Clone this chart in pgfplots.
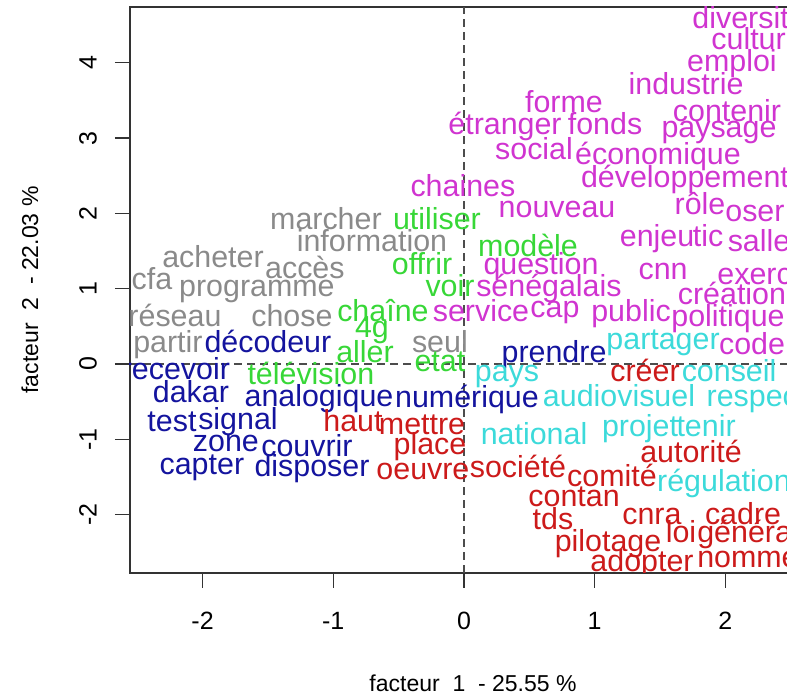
\documentclass[border=0pt]{standalone}
\usepackage{fontspec}
\setmainfont{Liberation Sans}
\usepackage{pgfplots}
\pgfplotsset{compat=1.18}
\definecolor{cmag}{RGB}{208,52,208}
\definecolor{cgray}{RGB}{138,138,138}
\definecolor{cgreen}{RGB}{55,215,55}
\definecolor{cblue}{RGB}{20,20,158}
\definecolor{cred}{RGB}{204,26,26}
\definecolor{ccyan}{RGB}{60,218,218}
\newcommand\wordfont{\fontsize{30.4}{32}\selectfont}
\newcommand\labfont{\fontsize{23}{26}\selectfont}
\newcommand\tickfont{\fontsize{25}{28}\selectfont}
\pgfplotsset{
  words/.style={only marks, mark=*, mark size=0pt, mark options={draw=none,fill=none},
    nodes near coords, point meta=explicit symbolic,
    every node near coord/.append style={anchor=center, font=\wordfont, inner sep=0pt,
      text height=0.72em, text depth=0.2em, yshift=-7pt}},
}
\begin{document}
\begin{tikzpicture}
\begin{axis}[
  scale only axis, width=686pt, height=566pt,
  xmin=-2.555, xmax=2.693, ymin=-2.776, ymax=4.741,
  axis line style={line width=1.5pt, black!80},
  tick pos=left, tick align=outside, major tick length=15pt,
  tick style={line width=1.2pt, black!80},
  xtick={-2,-1,0,1,2}, xticklabels={-2,-1,0,1,2},
  ytick={-2,-1,0,1,2,3,4}, yticklabels={-2,-1,0,1,2,3,4},
  xticklabel style={font=\tickfont, anchor=center, yshift=-33pt},
  yticklabel style={font=\tickfont, anchor=center, xshift=-27pt, rotate=90},
  every axis x label/.style={at={(rel axis cs:0.5,0)}, anchor=center, yshift=-110pt, font=\labfont},
  every axis y label/.style={at={(rel axis cs:0,0.5)}, anchor=center, xshift=-100pt, rotate=90, font=\labfont},
  xlabel={facteur\ \ 1\ \ - 25.55 \%},
  ylabel={facteur\ \ 2\ \ - 22.03 \%},
  clip marker paths=true,
]
\addplot[black!70, line width=1.3pt, dash pattern=on 8pt off 5pt] coordinates {(0,-2.776) (0,4.741)};
\addplot[black!70, line width=1.3pt, dash pattern=on 8pt off 5pt] coordinates {(-2.555,0) (2.693,0)};

\addplot[cmag, words] coordinates {
(2.181,4.582) [diversité]
(2.242,4.303) [culture]
(2.050,4.011) [emploi]
(1.699,3.705) [industrie]
(0.765,3.466) [forme]
(0.314,3.174) [étranger]
(1.079,3.174) [fonds]
(2.012,3.347) [contenir]
(1.951,3.134) [paysage]
(0.536,2.842) [social]
(1.484,2.776) [économique]
(1.691,2.470) [développement]
(-0.008,2.351) [chaines]
(0.712,2.072) [nouveau]
(1.806,2.112) [rôle]
(2.226,2.019) [oser]
(1.477,1.687) [enjeu]
(1.867,1.687) [tic]
(2.257,1.620) [salle]
(0.589,1.315) [question]
(1.523,1.248) [cnn]
(2.372,1.182) [exercice]
(0.650,1.023) [sénégalais]
(2.050,0.916) [création]
(0.130,0.691) [service]
(0.696,0.744) [cap]
(1.278,0.691) [public]
(2.020,0.624) [politique]
(2.204,0.252) [code]
};

\addplot[cgray, words] coordinates {
(-1.056,1.912) [marcher]
(-0.704,1.620) [information]
(-1.920,1.408) [acheter]
(-1.217,1.262) [accès]
(-2.387,1.116) [cfa]
(-1.584,1.023) [programme]
(-2.211,0.624) [réseau]
(-1.316,0.624) [chose]
(-0.184,0.279) [seul]
(-2.265,0.279) [partir]
};

\addplot[cgreen, words] coordinates {
(-0.207,1.912) [utiliser]
(0.490,1.554) [modèle]
(-0.321,1.315) [offrir]
(-0.107,1.023) [voir]
(-0.620,0.691) [chaîne]
(-0.704,0.478) [4g]
(-0.757,0.146) [aller]
(-0.184,0.027) [etat]
(-1.171,-0.146) [télévision]
};

\addplot[cblue, words] coordinates {
(-1.500,0.279) [décodeur]
(0.689,0.146) [prendre]
(-2.204,-0.080) [recevoir]
(-2.089,-0.385) [dakar]
(-1.109,-0.438) [analogique]
(0.023,-0.452) [numérique]
(-2.234,-0.770) [test]
(-1.729,-0.744) [signal]
(-1.821,-1.036) [zone]
(-1.201,-1.102) [couvrir]
(-2.005,-1.341) [capter]
(-1.163,-1.368) [disposer]
};

\addplot[cred, words] coordinates {
(-0.849,-0.770) [haut]
(-0.321,-0.810) [mettre]
(-0.260,-1.076) [place]
(-0.314,-1.408) [oeuvre]
(1.385,-0.106) [créer]
(1.737,-1.182) [autorité]
(0.413,-1.381) [société]
(1.132,-1.501) [comité]
(0.842,-1.766) [contan]
(0.681,-2.072) [tds]
(1.438,-2.005) [cnra]
(2.135,-2.005) [cadre]
(1.102,-2.364) [pilotage]
(1.660,-2.244) [loi]
(2.173,-2.244) [général]
(1.362,-2.629) [adopter]
(2.211,-2.576) [nommer]
};

\addplot[ccyan, words] coordinates {
(1.523,0.319) [partager]
(0.329,-0.106) [pays]
(2.028,-0.106) [conseil]
(1.186,-0.438) [audiovisuel]
(2.341,-0.438) [respecter]
(0.536,-0.943) [national]
(1.347,-0.837) [projet]
(1.852,-0.837) [tenir]
(1.989,-1.567) [régulation]
};
\end{axis}
\pgfresetboundingbox
\path[use as bounding box] ([xshift=-130pt,yshift=-122pt]current axis.south west) rectangle ([xshift=-29pt,yshift=7pt]current axis.north east);
\end{tikzpicture}
\end{document}
